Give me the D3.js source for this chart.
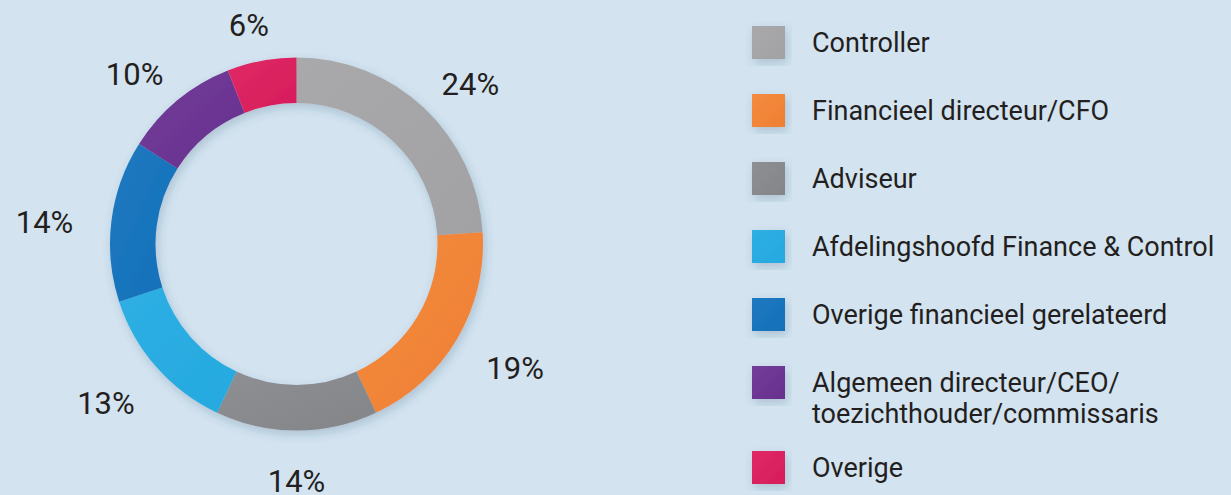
<!DOCTYPE html>
<html>
<head>
<meta charset="utf-8">
<script src="https://cdn.jsdelivr.net/npm/d3@7.9.0/dist/d3.min.js"></script>
<style>
  html, body { margin: 0; padding: 0; background: #d3e3f0; }
  svg { display: block; font-family: Roboto, "Noto Sans", sans-serif; }
</style>
</head>
<body>
<svg id="chart" width="1231" height="495"></svg>
<script>
// Data
const categories = [
  'Controller',
  'Financieel directeur/CFO',
  'Adviseur',
  'Afdelingshoofd Finance & Control',
  'Overige financieel gerelateerd',
  'Algemeen directeur/CEO/\ntoezichthouder/commissaris',
  'Overige'
];
const values = [24, 19, 14, 13, 14, 10, 6];
const colors = ['#a2a2a4', '#ee7f33', '#848589', '#25a9e0', '#1170b8', '#67308e', '#d71b5a'];
const lightColors = ['#a9a9ab', '#f48b3e', '#8e8f93', '#2eafe3', '#2079c0', '#733d99', '#df2a66'];

const data = categories.map((c, i) => ({ label: c, value: values[i], color: colors[i], light: lightColors[i] }));

const svg = d3.select('#chart');
const defs = svg.append('defs');

// soft shadow for ring and swatches
const shadow = defs.append('filter').attr('id', 'shadow')
  .attr('x', '-20%').attr('y', '-20%').attr('width', '140%').attr('height', '140%');
shadow.append('feDropShadow')
  .attr('dx', 2).attr('dy', 4).attr('stdDeviation', 5)
  .attr('flood-color', '#2a4a6a').attr('flood-opacity', 0.22);

// subtle gradients per slice
data.forEach((d, i) => {
  const g = defs.append('linearGradient').attr('id', 'grad' + i)
    .attr('x1', 0).attr('y1', 0).attr('x2', 1).attr('y2', 1);
  g.append('stop').attr('offset', '0%').attr('stop-color', d.light);
  g.append('stop').attr('offset', '100%').attr('stop-color', d.color);
});

// Donut
const cx = 296.5, cy = 244;
const outerR = 186.5, innerR = 141;
// labels sit on a slightly flattened ring around the donut, a bit lower
const labelRx = 254, labelRy = 230, labelShift = 7;

const pie = d3.pie().value(d => d.value).sort(null);
const arc = d3.arc().innerRadius(innerR).outerRadius(outerR);

const arcs = pie(data);

const ring = svg.append('g')
  .attr('transform', `translate(${cx},${cy})`)
  .attr('filter', 'url(#shadow)');

ring.selectAll('path')
  .data(arcs)
  .join('path')
  .attr('d', arc)
  .attr('fill', (d, i) => `url(#grad${i})`);

svg.append('g')
  .attr('transform', `translate(${cx},${cy + labelShift})`)
  .selectAll('text')
  .data(arcs)
  .join('text')
  .attr('transform', d => {
    const a = (d.startAngle + d.endAngle) / 2;
    return `translate(${labelRx * Math.sin(a)},${-labelRy * Math.cos(a)})`;
  })
  .attr('text-anchor', 'middle')
  .attr('dy', '0.36em')
  .attr('font-size', 31)
  .attr('fill', '#231f20')
  .text(d => d.data.value + '%');

// Legend
const legend = svg.append('g').attr('transform', 'translate(752,26)');
let y = 0;
data.forEach((d, i) => {
  const lines = d.label.split('\n');
  const item = legend.append('g').attr('transform', `translate(0,${y})`);
  item.append('rect')
    .attr('width', 33).attr('height', 33)
    .attr('fill', `url(#grad${i})`)
    .attr('filter', 'url(#shadow)');
  const t = item.append('text')
    .attr('x', 60)
    .attr('y', 26)
    .attr('font-size', 27)
    .attr('fill', '#231f20');
  lines.forEach((line, j) => {
    t.append('tspan').attr('x', 60).attr('dy', j === 0 ? 0 : 31).text(line);
  });
  y += 68 + (lines.length - 1) * 17;
});
</script>
</body>
</html>
